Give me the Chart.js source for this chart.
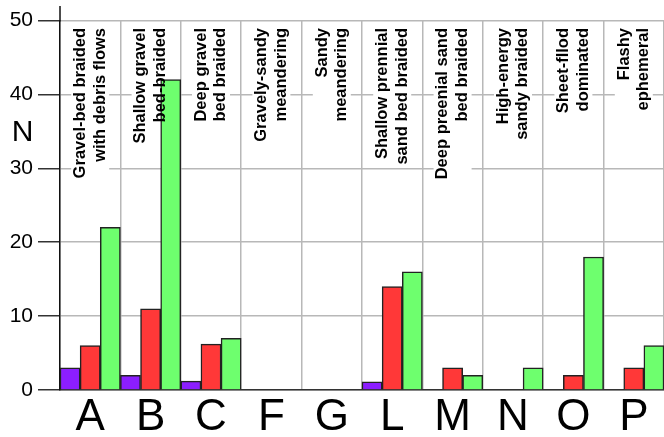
<!DOCTYPE html>
<html>
<head>
<meta charset="utf-8">
<script src="https://cdn.jsdelivr.net/npm/chart.js@4/dist/chart.umd.min.js"></script>
<style>
  html, body { margin: 0; padding: 0; background: #fff; }
  #wrap { width: 664px; height: 437px; }
</style>
</head>
<body>
<div id="wrap"><canvas id="c" width="664" height="437"></canvas></div>
<script>
// River style codes along the x axis
const categories = ['A', 'B', 'C', 'F', 'G', 'L', 'M', 'N', 'O', 'P'];

// Descriptive names printed inside each column (two lines each)
const styleNameLine1 = ['Gravel-bed braided', 'Shallow gravel', 'Deep gravel', 'Gravely-sandy', 'Sandy',
                        'Shallow prennial', 'Deep preenial sand', 'High-energy', 'Sheet-fllod', 'Flashy'];
const styleNameLine2 = ['with debris flows', 'bed-braided', 'bed braided', 'meandering', 'meandering',
                        'sand bed braided', 'bed braided', 'sandy braided', 'dominated', 'ephemeral'];

// Counts per style for the three groups
const purpleCounts = [3, 2, 1.2, 0, 0, 1.1, 0, 0, 0, 0];
const redCounts    = [6, 11, 6.2, 0, 0, 14, 3, 0, 2, 3];
const greenCounts  = [22, 42, 7, 0, 0, 16, 2, 3, 18, 6];

// Y axis ticks
const yTicks = [0, 10, 20, 30, 40, 50];
const yAxisTitle = 'N';

const FONT = '"Liberation Sans", Arial, Helvetica, sans-serif';
const NAME_FONT = 'bold 16.5px ' + FONT;

// Runs fn in a frame rotated so text reads upward, ending just under the top gridline
function eachColumn(chart, fn) {
  const ctx = chart.ctx;
  const x = chart.scales.x, y = chart.scales.y;
  const topY = y.getPixelForValue(50) + 7.5;
  ctx.save();
  ctx.font = NAME_FONT;
  categories.forEach((c, i) => {
    ctx.save();
    ctx.translate(x.getPixelForValue(i), topY);
    ctx.rotate(-Math.PI / 2);
    fn(ctx, styleNameLine1[i], styleNameLine2[i]);
    ctx.restore();
  });
  ctx.restore();
}

// Style names: white box under the gridlines' crossing, text above the bars
const columnNames = {
  id: 'columnNames',
  beforeDatasetsDraw(chart) {
    eachColumn(chart, (ctx, l1, l2) => {
      const w = Math.max(ctx.measureText(l1).width, ctx.measureText(l2).width);
      ctx.fillStyle = '#fff';
      ctx.fillRect(-w - 2, -19, w + 4, 38);
    });
  },
  afterDatasetsDraw(chart) {
    eachColumn(chart, (ctx, l1, l2) => {
      ctx.fillStyle = '#000';
      ctx.textAlign = 'right';
      ctx.textBaseline = 'middle';
      ctx.fillText(l1, 0, -9.8);
      ctx.fillText(l2, 0, 9.8);
    });
  },
  afterDraw(chart) {
    const ctx = chart.ctx;
    const area = chart.chartArea;
    ctx.save();
    // axis line continues a little above the top gridline
    ctx.strokeStyle = '#111';
    ctx.lineWidth = 1.5;
    ctx.beginPath();
    ctx.moveTo(area.left, area.top + 1);
    ctx.lineTo(area.left, 6);
    ctx.stroke();
    // axis title, upright
    ctx.fillStyle = '#000';
    ctx.font = '30px ' + FONT;
    ctx.textAlign = 'center';
    ctx.textBaseline = 'middle';
    ctx.fillText(yAxisTitle, 22.5, 133);
    ctx.restore();
  }
};

new Chart(document.getElementById('c'), {
  type: 'bar',
  data: {
    labels: categories,
    datasets: [
      { label: 'Group 1', data: purpleCounts, backgroundColor: 'rgb(140,30,255)' },
      { label: 'Group 2', data: redCounts,    backgroundColor: 'rgb(255,56,56)' },
      { label: 'Group 3', data: greenCounts,  backgroundColor: 'rgb(110,255,110)' }
    ]
  },
  options: {
    responsive: false,
    animation: false,
    devicePixelRatio: 1,
    layout: { padding: { top: 20.5, right: 0, bottom: 0, left: 0 } },
    datasets: {
      bar: {
        categoryPercentage: 1,
        barPercentage: 1,
        borderColor: '#222',
        borderWidth: 1.5
      }
    },
    plugins: {
      legend: { display: false },
      tooltip: { enabled: false },
      title: { display: false }
    },
    scales: {
      x: {
        grid: { color: '#b8b8b8', lineWidth: 1.5, drawTicks: false },
        border: { color: '#333', width: 1.5 },
        ticks: {
          color: '#000',
          font: { family: FONT, size: 44, lineHeight: 1 },
          padding: 6,
          maxRotation: 0,
          autoSkip: false
        },
        afterFit(scale) { scale.height = 47; }
      },
      y: {
        min: 0,
        max: 50,
        afterBuildTicks(axis) { axis.ticks = yTicks.map(v => ({ value: v })); },
        grid: { color: '#b8b8b8', lineWidth: 1.5, tickColor: '#333', tickLength: 22 },
        border: { color: '#111', width: 1.5 },
        ticks: {
          color: '#000',
          font: { family: FONT, size: 21 },
          padding: 5
        },
        afterFit(scale) { scale.width = 60; }
      }
    }
  },
  plugins: [columnNames]
});
</script>
</body>
</html>
